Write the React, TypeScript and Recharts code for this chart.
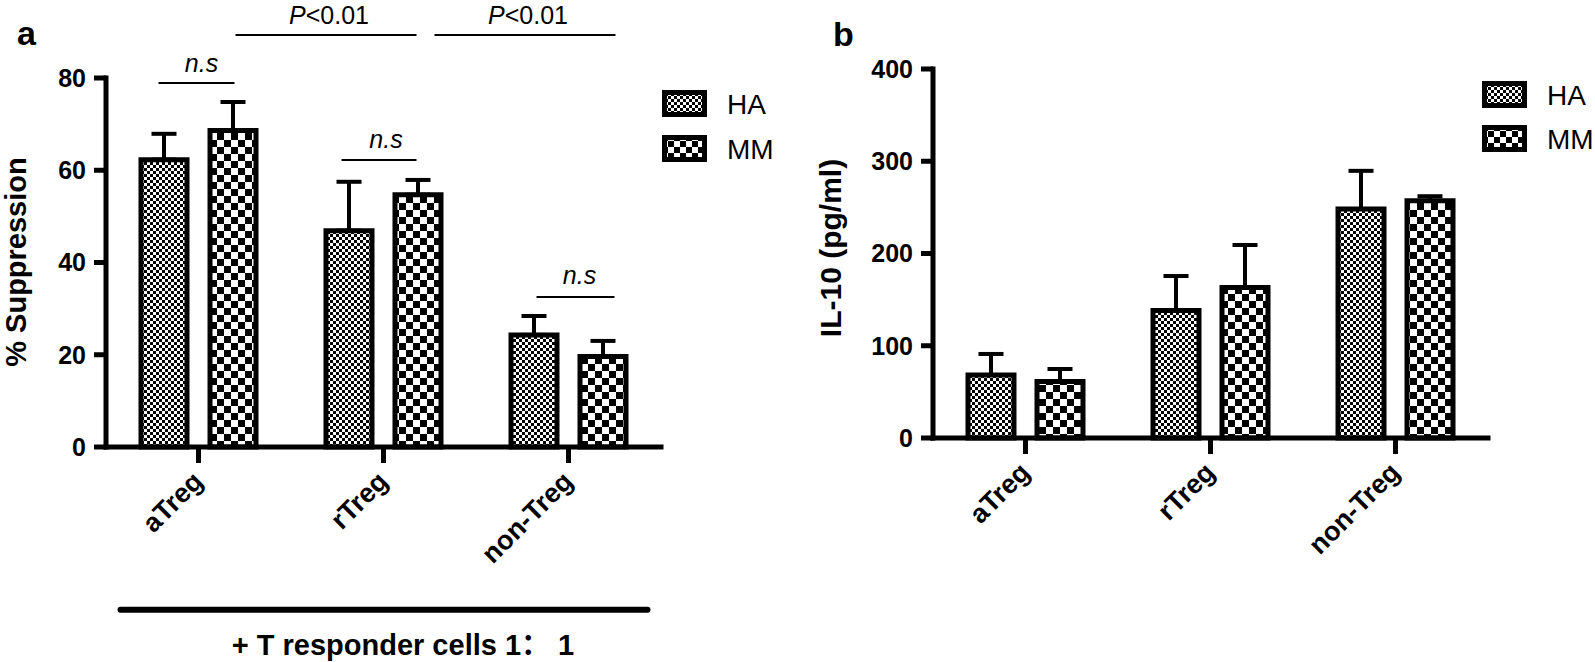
import React from "react";
import { BarChart, Bar, XAxis, YAxis, ErrorBar, ReferenceLine } from "recharts";

const FONT = "'Liberation Sans', Arial, 'Noto Sans CJK SC', sans-serif";

const categories = ["aTreg", "rTreg", "non-Treg"];
const seriesNames = ["HA", "MM"];

// a: % suppression (mean, upper error)
const suppressionHA = [62.3, 46.9, 24.3];
const suppressionHAErr = [5.6, 10.6, 4.1];
const suppressionMM = [68.6, 54.7, 19.6];
const suppressionMMErr = [6.2, 3.2, 3.4];
const suppressionTicks = [0, 20, 40, 60, 80];

// b: IL-10 (pg/ml)
const il10HA = [68.3, 138.2, 248.2];
const il10HAErr = [22.8, 37.4, 41.4];
const il10MM = [61.2, 163.1, 257.1];
const il10MMErr = [13.6, 46.1, 5.0];
const il10Ticks = [0, 100, 200, 300, 400];

// significance marks on panel a
const sigFrom = ["aTreg", "rTreg", "non-Treg", "aTreg", "rTreg"];
const sigTo = ["aTreg", "rTreg", "non-Treg", "rTreg", "non-Treg"];
const sigLevel = [78.9, 62.2, 32.5, 89.3, 89.3];
const sigLabel = ["n.s", "n.s", "n.s", "P<0.01", "P<0.01"];
const captionLevel = -35.3;

// pixel tweaks for the brackets (start/end shift, text gap, text shift)
const sigDx = [[-40, 36], [-42, 33], [-32, 46], [37, 33], [51, 47]];
const sigGap = [11, 12, 13, 11, 11];
const sigTextDx = [5, 7, 4, 3, 3];

type Row = { name: string; HA: number; MM: number; haErr: number[]; mmErr: number[] };

function buildRows(ha: number[], haErr: number[], mm: number[], mmErr: number[]): Row[] {
  return categories.map((name, i) => ({
    name,
    HA: ha[i],
    MM: mm[i],
    haErr: [0, haErr[i]],
    mmErr: [0, mmErr[i]],
  }));
}

const rowsA = buildRows(suppressionHA, suppressionHAErr, suppressionMM, suppressionMMErr);
const rowsB = buildRows(il10HA, il10HAErr, il10MM, il10MMErr);

const AXIS = { stroke: "#000", strokeWidth: 5, strokeLinecap: "square" as const };
const TICKLINE = { stroke: "#000", strokeWidth: 5 };

function SlantTick(props: any) {
  const { x, y, payload } = props;
  const tx = x + 6;
  const ty = y + 18;
  return (
    <text
      x={tx}
      y={ty}
      transform={`rotate(-45 ${tx} ${ty})`}
      textAnchor="end"
      fontFamily={FONT}
      fontWeight="bold"
      fontSize={27}
      fill="#000"
    >
      {payload.value}
    </text>
  );
}

function sigShape(i: number) {
  return (p: any) => {
    const x1 = p.x1 + sigDx[i][0];
    const x2 = p.x2 + sigDx[i][1];
    const y = p.y1;
    const label = sigLabel[i];
    return (
      <g>
        <line x1={x1} x2={x2} y1={y} y2={y} stroke="#000" strokeWidth={2} />
        <text
          x={(x1 + x2) / 2 + sigTextDx[i]}
          y={y - sigGap[i]}
          textAnchor="middle"
          fontFamily={FONT}
          fontSize={25}
          fill="#000"
        >
          {label.startsWith("P") ? (
            <>
              <tspan fontStyle="italic">P</tspan>
              <tspan>{label.slice(1)}</tspan>
            </>
          ) : (
            <tspan fontStyle="italic">{label}</tspan>
          )}
        </text>
      </g>
    );
  };
}

const captionShape = (p: any) => (
  <line x1={p.x1 - 78} x2={p.x2 + 79} y1={p.y1} y2={p.y1} stroke="#000" strokeWidth={6} strokeLinecap="round" />
);

type PanelProps = {
  data: Row[];
  ticks: number[];
  width: number;
  margin: { top: number; right: number; bottom: number; left: number };
  children?: React.ReactNode;
};

function Panel({ data, ticks, width, margin, children }: PanelProps) {
  return (
    <BarChart width={width} height={662} data={data} margin={margin} barGap={23} barSize={46}>
      <XAxis
        dataKey="name"
        interval={0}
        height={100}
        axisLine={AXIS}
        tickLine={TICKLINE}
        tickSize={16}
        tick={<SlantTick />}
      />
      <YAxis
        width={60}
        domain={[ticks[0], ticks[ticks.length - 1]]}
        ticks={ticks}
        interval={0}
        axisLine={AXIS}
        tickLine={TICKLINE}
        tickSize={12}
        tickMargin={8}
        tick={{ fill: "#000", fontSize: 25, fontWeight: "bold", fontFamily: FONT }}
      />
      <Bar dataKey="HA" fill="url(#haFill)" stroke="#000" strokeWidth={5} isAnimationActive={false}>
        <ErrorBar dataKey="haErr" direction="y" width={12.5} stroke="#000" strokeWidth={4} />
      </Bar>
      <Bar dataKey="MM" fill="url(#mmFill)" stroke="#000" strokeWidth={5} isAnimationActive={false}>
        <ErrorBar dataKey="mmErr" direction="y" width={12.5} stroke="#000" strokeWidth={4} />
      </Bar>
      {children}
    </BarChart>
  );
}

function LegendBlock({ x, y, step }: { x: number; y: number; step: number }) {
  return (
    <>
      {seriesNames.map((s, i) => (
        <g key={s} transform={`translate(${x}, ${y + i * step})`}>
          <rect x={0} y={0} width={45} height={27} fill="#000" />
          <rect x={5} y={5} width={35} height={17} fill={i === 0 ? "url(#haLeg)" : "url(#mmLeg)"} />
          <text x={65} y={14} dominantBaseline="central" fontFamily={FONT} fontSize={28} fill="#000">
            {s}
          </text>
        </g>
      ))}
    </>
  );
}

export default function App() {
  return (
    <div style={{ position: "absolute", left: 0, top: 0, width: 1595, height: 662, background: "#fff" }}>
      <svg width={0} height={0} style={{ position: "absolute" }}>
        <defs>
          <pattern id="haFill" width={6} height={6} patternUnits="userSpaceOnUse">
            <rect width={6} height={6} fill="#fff" />
            <rect width={3} height={3} fill="#000" />
            <rect x={3} y={3} width={3} height={3} fill="#000" />
          </pattern>
          <pattern id="mmFill" width={14} height={14} patternUnits="userSpaceOnUse">
            <rect width={14} height={14} fill="#fff" />
            <rect width={7} height={7} fill="#000" />
            <rect x={7} y={7} width={7} height={7} fill="#000" />
          </pattern>
          <pattern id="haLeg" width={6} height={6} patternUnits="userSpaceOnUse">
            <rect width={6} height={6} fill="#fff" />
            <rect width={3} height={3} fill="#000" />
            <rect x={3} y={3} width={3} height={3} fill="#000" />
          </pattern>
          <pattern id="mmLeg" width={12} height={12} patternUnits="userSpaceOnUse">
            <rect width={12} height={12} fill="#fff" />
            <rect width={6} height={6} fill="#000" />
            <rect x={6} y={6} width={6} height={6} fill="#000" />
          </pattern>
        </defs>
      </svg>

      <div style={{ position: "absolute", left: 0, top: 0 }}>
        <Panel data={rowsA} ticks={suppressionTicks} width={780} margin={{ top: 78, right: 119, bottom: 115, left: 46 }}>
          {sigLabel.map((_, i) => (
            <ReferenceLine
              key={i}
              segment={[
                { x: sigFrom[i], y: sigLevel[i] },
                { x: sigTo[i], y: sigLevel[i] },
              ]}
              ifOverflow="visible"
              shape={sigShape(i)}
            />
          ))}
          <ReferenceLine
            segment={[
              { x: categories[0], y: captionLevel },
              { x: categories[categories.length - 1], y: captionLevel },
            ]}
            ifOverflow="visible"
            shape={captionShape}
          />
        </Panel>
      </div>

      <div style={{ position: "absolute", left: 780, top: 0 }}>
        <Panel data={rowsB} ticks={il10Ticks} width={815} margin={{ top: 69, right: 107, bottom: 124, left: 93 }} />
      </div>

      <svg width={1595} height={662} style={{ position: "absolute", left: 0, top: 0, pointerEvents: "none" }}>
        <text x={17} y={45} fontFamily={FONT} fontWeight="bold" fontSize={34} fill="#000">a</text>
        <text x={833} y={46} fontFamily={FONT} fontWeight="bold" fontSize={34} fill="#000">b</text>
        <text
          x={16}
          y={262}
          transform="rotate(-90 16 262)"
          textAnchor="middle"
          dominantBaseline="central"
          fontFamily={FONT}
          fontWeight="bold"
          fontSize={29}
          fill="#000"
        >
          % Suppression
        </text>
        <text
          x={830}
          y={248}
          transform="rotate(-90 830 248)"
          textAnchor="middle"
          dominantBaseline="central"
          fontFamily={FONT}
          fontWeight="bold"
          fontSize={30}
          fill="#000"
        >
          IL-10 (pg/ml)
        </text>
        <text x={403} y={655} textAnchor="middle" fontFamily={FONT} fontWeight="bold" fontSize={29} fill="#000">
          + T responder cells 1： 1
        </text>
        <LegendBlock x={662} y={90} step={45} />
        <LegendBlock x={1482} y={81} step={44} />
      </svg>
    </div>
  );
}
